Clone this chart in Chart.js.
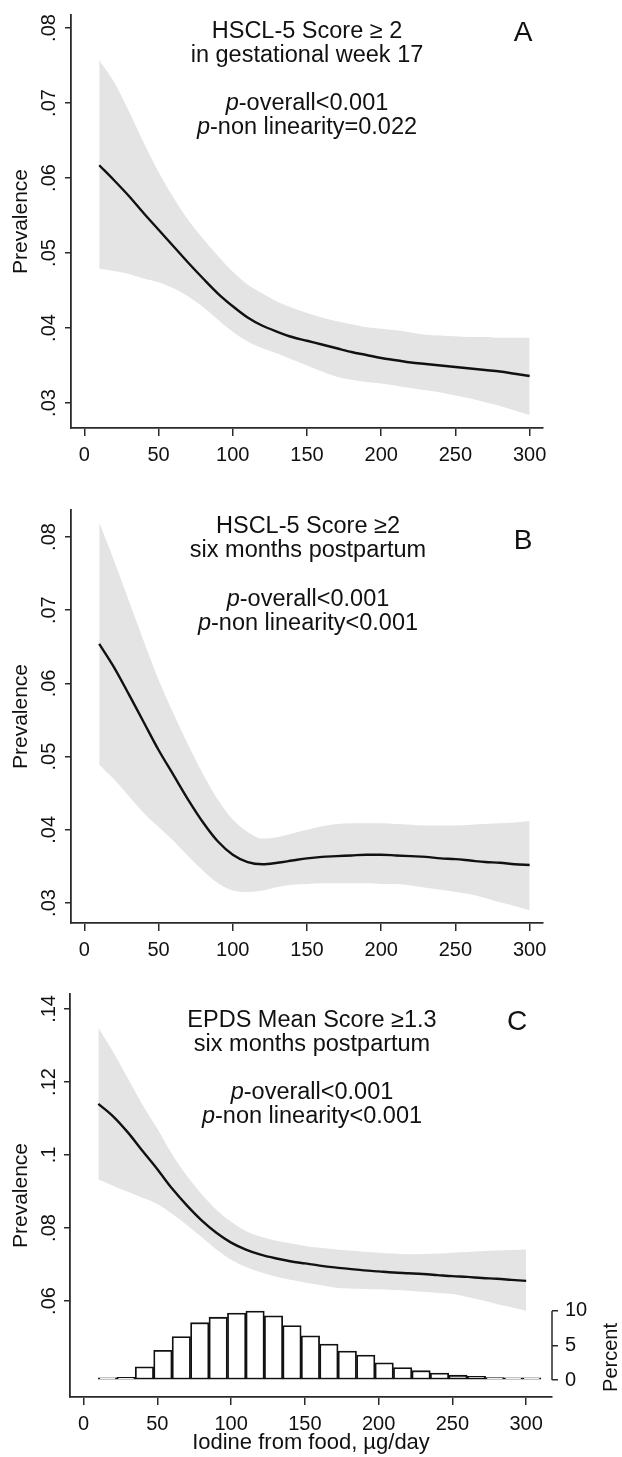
<!DOCTYPE html>
<html>
<head>
<meta charset="utf-8">
<script src="https://cdn.jsdelivr.net/npm/chart.js@4.4.1/dist/chart.umd.min.js"></script>
<style>
  body { margin: 0; background: #fff; }
  canvas { display: block; }
</style>
</head>
<body>
<canvas id="chartA" width="622" height="480"></canvas>
<canvas id="chartB" width="622" height="480"></canvas>
<canvas id="chartC" width="622" height="497"></canvas>
<script>
// iodine intake grid (µg/day) where the spline curves were read
const xGrid = [10, 20, 30, 40, 50, 60, 70, 80, 90, 100, 110, 120, 130, 140, 150,
  160, 170, 180, 190, 200, 210, 220, 230, 240, 250, 260, 270, 280, 290, 300];
const xTicks = [0, 50, 100, 150, 200, 250, 300];
const yTicksAB = [0.03, 0.04, 0.05, 0.06, 0.07, 0.08];
const yTicksC = [0.06, 0.08, 0.1, 0.12, 0.14];
const pctTicks = [0, 5, 10];

// A: HSCL-5 >= 2, week 17
const fitA = [0.0617, 0.0597, 0.0576, 0.0553, 0.0531, 0.0509, 0.0487, 0.0466, 0.0446, 0.0429,
  0.0414, 0.0403, 0.0395, 0.0388, 0.0383, 0.0378, 0.0373, 0.0368, 0.0364, 0.0360,
  0.0357, 0.0354, 0.0352, 0.0350, 0.0348, 0.0346, 0.0344, 0.0342, 0.0339, 0.0336];
const upperA = [0.0757, 0.0728, 0.0689, 0.0647, 0.0608, 0.0574, 0.0544, 0.0519, 0.0496, 0.0475,
  0.0458, 0.0446, 0.0435, 0.0427, 0.0420, 0.0414, 0.0409, 0.0405, 0.0401, 0.0399,
  0.0397, 0.0394, 0.0391, 0.0390, 0.0389, 0.0388, 0.0388, 0.0387, 0.0387, 0.0387];
const lowerA = [0.0479, 0.0476, 0.0472, 0.0466, 0.0461, 0.0453, 0.0442, 0.0428, 0.0411, 0.0395,
  0.0382, 0.0373, 0.0366, 0.0358, 0.0350, 0.0342, 0.0335, 0.0331, 0.0328, 0.0326,
  0.0323, 0.0320, 0.0317, 0.0314, 0.0310, 0.0306, 0.0301, 0.0296, 0.0290, 0.0284];

// B: HSCL-5 >= 2, six months postpartum
const fitB = [0.0654, 0.0622, 0.0585, 0.0547, 0.0509, 0.0475, 0.0441, 0.0410, 0.0384, 0.0366,
  0.0356, 0.0353, 0.0355, 0.0358, 0.0361, 0.0363, 0.0364, 0.0365, 0.0366, 0.0366,
  0.0365, 0.0364, 0.0363, 0.0361, 0.0360, 0.0358, 0.0356, 0.0355, 0.0353, 0.0352];
const upperB = [0.0820, 0.0768, 0.0713, 0.0658, 0.0605, 0.0559, 0.0516, 0.0476, 0.0441, 0.0414,
  0.0397, 0.0388, 0.0390, 0.0395, 0.0400, 0.0405, 0.0408, 0.0409, 0.0409, 0.0409,
  0.0408, 0.0407, 0.0406, 0.0406, 0.0406, 0.0407, 0.0408, 0.0409, 0.0410, 0.0412];
const lowerB = [0.0489, 0.0469, 0.0446, 0.0423, 0.0404, 0.0385, 0.0364, 0.0344, 0.0327, 0.0317,
  0.0315, 0.0317, 0.0322, 0.0325, 0.0326, 0.0327, 0.0327, 0.0327, 0.0327, 0.0326,
  0.0326, 0.0324, 0.0321, 0.0318, 0.0315, 0.0312, 0.0307, 0.0301, 0.0296, 0.0290];

// C: EPDS >= 1.3, six months postpartum
const fitC = [0.1140, 0.1106, 0.1062, 0.1011, 0.0961, 0.0908, 0.0862, 0.0821, 0.0787, 0.0760,
  0.0741, 0.0727, 0.0717, 0.0709, 0.0703, 0.0697, 0.0692, 0.0688, 0.0684, 0.0681,
  0.0678, 0.0676, 0.0674, 0.0671, 0.0668, 0.0666, 0.0663, 0.0661, 0.0658, 0.0655];
const upperC = [0.1348, 0.1283, 0.1210, 0.1137, 0.1072, 0.1002, 0.0943, 0.0893, 0.0850, 0.0817,
  0.0792, 0.0776, 0.0766, 0.0758, 0.0751, 0.0746, 0.0742, 0.0738, 0.0735, 0.0732,
  0.0730, 0.0728, 0.0729, 0.0730, 0.0732, 0.0734, 0.0736, 0.0738, 0.0740, 0.0741];
const lowerC = [0.0933, 0.0916, 0.0899, 0.0883, 0.0866, 0.0839, 0.0808, 0.0775, 0.0741, 0.0713,
  0.0693, 0.0679, 0.0667, 0.0658, 0.0651, 0.0644, 0.0637, 0.0634, 0.0633, 0.0632,
  0.0630, 0.0628, 0.0625, 0.0622, 0.0619, 0.0611, 0.0602, 0.0592, 0.0583, 0.0573];

// histogram of iodine intake (bin midpoints, percent of women)
const histMid = [16.25, 28.75, 41.25, 53.75, 66.25, 78.75, 91.25, 103.75, 116.25, 128.75, 141.25, 153.75,
  166.25, 178.75, 191.25, 203.75, 216.25, 228.75, 241.25, 253.75, 266.25, 278.75, 291.25, 303.75];
const histPct = [0.3, 0.38, 1.9, 4.3, 6.3, 8.3, 9.1, 9.7, 10.0, 9.3, 7.9, 6.4,
  5.2, 4.2, 3.6, 2.5, 1.8, 1.35, 1.0, 0.7, 0.55, 0.35, 0.3, 0.3];

// annotation lines: [italic part, plain part]
const notesA = [['', 'HSCL-5 Score \u2265 2'], ['', 'in gestational week 17'],
  ['p', '-overall<0.001'], ['p', '-non linearity=0.022']];
const notesB = [['', 'HSCL-5 Score \u22652'], ['', 'six months postpartum'],
  ['p', '-overall<0.001'], ['p', '-non linearity<0.001']];
const notesC = [['', 'EPDS Mean Score \u22651.3'], ['', 'six months postpartum'],
  ['p', '-overall<0.001'], ['p', '-non linearity<0.001']];

const FAMILY = '"Liberation Sans", Arial, Helvetica, sans-serif';
const INK = '#111';
const AXIS = '#2a2a2a';
const BAND = '#e4e4e4';

Chart.defaults.font.family = FAMILY;
Chart.defaults.color = INK;

function fmtProb(v) {
  return String(+v.toFixed(2)).replace(/^0/, '');
}

function drawRich(ctx, parts, cx, y, size) {
  const italic = 'italic ' + size + 'px ' + FAMILY;
  const plain = size + 'px ' + FAMILY;
  ctx.font = italic;
  const w1 = ctx.measureText(parts[0]).width;
  ctx.font = plain;
  const w2 = ctx.measureText(parts[1]).width;
  let x = cx - (w1 + w2) / 2;
  ctx.textAlign = 'left';
  ctx.font = italic;
  ctx.fillText(parts[0], x, y);
  ctx.font = plain;
  ctx.fillText(parts[1], x + w1, y);
}

const decorPlugin = {
  id: 'decor',
  afterDraw(chart, args, opts) {
    const { ctx, chartArea: area, scales } = chart;
    ctx.save();
    ctx.fillStyle = INK;
    ctx.textBaseline = 'alphabetic';

    // y tick labels, turned like in Stata
    const ys = scales.y;
    ctx.font = '20px ' + FAMILY;
    ctx.textAlign = 'center';
    ys.ticks.forEach(t => {
      ctx.save();
      ctx.translate(opts.tickX, ys.getPixelForValue(t.value));
      ctx.rotate(-Math.PI / 2);
      ctx.fillText(fmtProb(t.value), 0, 0);
      ctx.restore();
    });

    opts.notes.forEach((line, i) => {
      drawRich(ctx, line, opts.noteX, area.top + opts.noteY[i], 23.5);
    });

    ctx.font = '28px ' + FAMILY;
    ctx.textAlign = 'center';
    ctx.fillText(opts.letter, opts.letterX, area.top + opts.letterY);

    // secondary percent axis: short bracket from 0 to 10
    if (scales.yPct) {
      const ps = scales.yPct;
      const y0 = ps.getPixelForValue(0);
      const y10 = ps.getPixelForValue(10);
      ctx.strokeStyle = AXIS;
      ctx.lineWidth = 1.5;
      ctx.beginPath();
      ctx.moveTo(area.right, y0);
      ctx.lineTo(area.right, y10);
      ctx.stroke();
      ctx.save();
      ctx.translate(617, (y0 + y10) / 2 + 12);
      ctx.rotate(-Math.PI / 2);
      ctx.font = '20px ' + FAMILY;
      ctx.textAlign = 'center';
      ctx.fillText('Percent', 0, 0);
      ctx.restore();
    }
    ctx.restore();
  }
};

function pts(arr) {
  return xGrid.map((x, i) => ({ x: x, y: arr[i] }));
}

function buildPanel(p) {
  const curve = { pointRadius: 0, cubicInterpolationMode: 'monotone' };
  const datasets = [
    Object.assign({ data: pts(p.upper), fill: '+1', backgroundColor: BAND,
      borderColor: 'rgba(0,0,0,0)', borderWidth: 0, order: 3 }, curve),
    Object.assign({ data: pts(p.lower), fill: false,
      borderColor: 'rgba(0,0,0,0)', borderWidth: 0, order: 3 }, curve),
    Object.assign({ data: pts(p.fit), fill: false, borderColor: INK, borderWidth: 2.4, order: 1 }, curve)
  ];

  const tickGrid = (len) => ({ display: true, drawOnChartArea: false, drawTicks: true,
    tickLength: len, color: AXIS, lineWidth: 1.5, offset: false });

  const scales = {
    x: {
      type: 'linear', min: p.xMin, max: p.xMax, offset: false,
      afterBuildTicks: s => { s.ticks = xTicks.map(v => ({ value: v })); },
      afterFit: s => { s.height = p.xHeight; },
      grid: tickGrid(8),
      border: { display: true, color: AXIS, width: 1.8 },
      ticks: { color: INK, font: { size: 20 }, padding: 7, maxRotation: 0, autoSkip: false },
      title: p.xTitle
        ? { display: true, text: p.xTitle, color: INK, font: { size: 22 }, padding: { top: 0, bottom: 1 } }
        : { display: false }
    },
    y: {
      type: 'linear', position: 'left', min: p.yMin, max: p.yMax,
      afterBuildTicks: s => { s.ticks = p.yTicks.map(v => ({ value: v })); },
      afterFit: s => { s.width = p.left; },
      grid: tickGrid(6),
      border: { display: true, color: AXIS, width: 1.8 },
      ticks: { display: false },
      title: { display: true, text: 'Prevalence', color: INK, font: { size: 21 }, padding: { top: 9, bottom: 0 } }
    }
  };

  if (p.hist) {
    datasets.push({
      type: 'bar', yAxisID: 'yPct',
      data: histMid.map((x, i) => ({ x: x, y: histPct[i] })),
      backgroundColor: '#fff', borderColor: INK, borderWidth: 1.8, borderSkipped: false,
      barPercentage: 1, categoryPercentage: 1, order: 2
    });
    scales.yPct = {
      type: 'linear', position: 'right', min: p.pctMin, max: p.pctMax,
      afterBuildTicks: s => { s.ticks = pctTicks.map(v => ({ value: v })); },
      afterFit: s => { s.width = 70; },
      grid: tickGrid(6),
      border: { display: false },
      ticks: { color: INK, font: { size: 20 }, padding: 7 }
    };
  }

  return new Chart(document.getElementById(p.id), {
    type: 'line',
    data: { datasets: datasets },
    options: {
      responsive: false,
      animation: false,
      events: [],
      layout: { padding: { top: p.top, right: p.right, left: 0, bottom: 0 } },
      scales: scales,
      plugins: {
        legend: { display: false },
        tooltip: { enabled: false },
        decor: { tickX: 55, notes: p.notes, noteX: p.noteX, noteY: p.noteY,
          letter: p.letter, letterX: p.letterX, letterY: p.letterY }
      }
    },
    plugins: [decorPlugin]
  });
}

buildPanel({
  id: 'chartA', fit: fitA, upper: upperA, lower: lowerA, yTicks: yTicksAB,
  yMin: 0.02667, yMax: 0.08173, xMin: -9, xMax: 309,
  top: 15, right: 79, left: 71, xHeight: 52,
  notes: notesA, noteX: 307, noteY: [23, 47, 95, 119], letter: 'A', letterX: 523, letterY: 26
});

buildPanel({
  id: 'chartB', fit: fitB, upper: upperB, lower: lowerB, yTicks: yTicksAB,
  yMin: 0.02727, yMax: 0.08369, xMin: -9, xMax: 309,
  top: 30, right: 79, left: 71, xHeight: 37,
  notes: notesB, noteX: 308, noteY: [23, 47, 96, 120], letter: 'B', letterX: 523, letterY: 39
});

buildPanel({
  id: 'chartC', fit: fitC, upper: upperC, lower: lowerC, yTicks: yTicksC,
  yMin: 0.0337, yMax: 0.1441, xMin: -9.2, xMax: 317.5,
  top: 34, right: 0, left: 70, xHeight: 60, xTitle: 'Iodine from food, \u00b5g/day',
  hist: true, pctMin: -2.46, pctMax: 55.9,
  notes: notesC, noteX: 312, noteY: [33, 57, 105, 129], letter: 'C', letterX: 517, letterY: 36
});
</script>
</body>
</html>
